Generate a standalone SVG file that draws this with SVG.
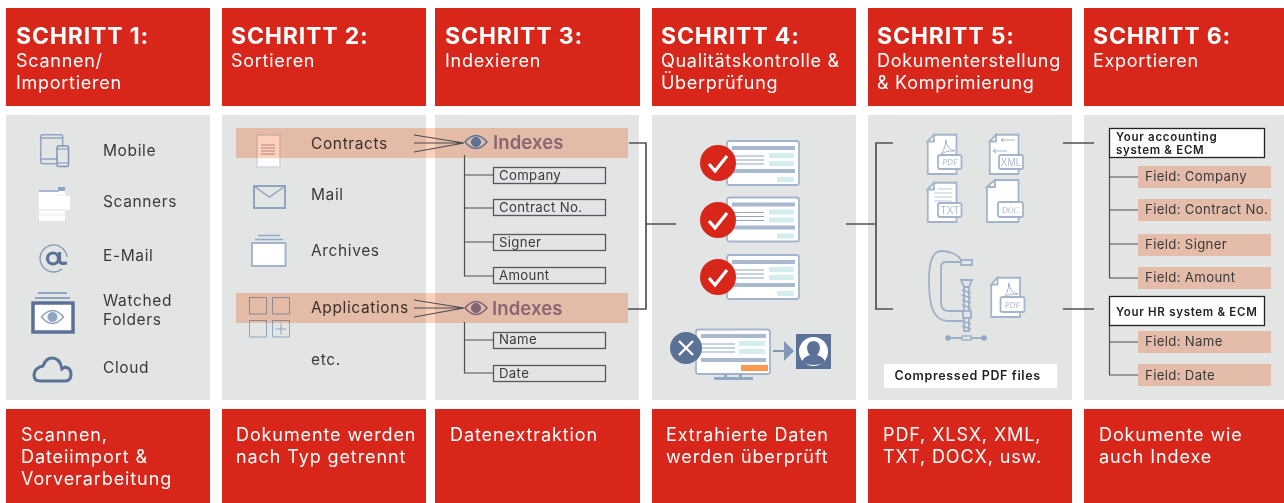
<svg xmlns="http://www.w3.org/2000/svg" xmlns:xlink="http://www.w3.org/1999/xlink" width="1284" height="503" viewBox="0 0 1284 503">
<style>
text{font-family:"Inter","Open Sans","Liberation Sans",sans-serif;fill:#3a3a3a}
.red{fill:#d9261a}
.panel{fill:#e3e5e4}
.h1{font-size:23px;font-weight:700;fill:#fff;letter-spacing:.85px}
.h2{font-size:18px;fill:#fff;letter-spacing:.72px}
.f{font-size:18px;fill:#fff;letter-spacing:.9px}
.l{font-size:15.5px;letter-spacing:.62px}
.b{font-size:13.2px;letter-spacing:.34px}
.idx{font-size:18.5px;font-weight:600;fill:#8a6572;letter-spacing:.1px}
.fld{fill:#e5bcaa}
.band{fill:#ffd0bb;mix-blend-mode:multiply}
.box{fill:none;stroke:#55585c;stroke-width:1.3}
.sysbox{fill:#fff;stroke:#222;stroke-width:1.3}
.sys{font-size:11.5px;font-weight:600;fill:#222;letter-spacing:.7px}
.ln{fill:none;stroke:#4a4d52;stroke-width:1.2}
.br{fill:none;stroke:#4f5257;stroke-width:1.7}
.ic{fill:none;stroke:#8fa5c2;stroke-width:1.5}
.icw{fill:#fff;stroke:#a3b5cd;stroke-width:1.8}
.dk{fill:#5b7296}
.bar{fill:#aab9d0}
.tag{fill:#d4edef}
.cl{fill:none;stroke:#9db0c9;stroke-width:1.8}
.ext{font-size:8px;font-style:italic;fill:#aab9d0;font-family:"Liberation Serif",serif;letter-spacing:0}
.exs{font-size:10px;fill:#aab9d0;font-family:"Liberation Sans",sans-serif;letter-spacing:0}
</style>
<defs>
<g id="file"><path class="icw" d="M7 .75H29.500V40H.75V7.500Z"/><path class="icw" d="M.75 7.500H7V.75Z"/></g>
<g id="card">
<rect class="icw" x="0" y="0" width="72" height="44" rx="2.500"/>
<rect class="bar" x="5" y="5" width="63" height="4"/><rect class="bar" x="5" y="28" width="63" height="4"/>
<path class="ic" stroke-width="1" d="M5 15H37M5 19H37M5 23H37" style="stroke-width:1"/>
<rect class="tag" x="42" y="12" width="25" height="5" rx="1"/><rect class="tag" x="42" y="20" width="25" height="5" rx="1"/><rect class="tag" x="50" y="36" width="17" height="5" rx="1"/>
</g>
<g id="check"><circle class="red" r="18"/><path d="M-9 1-3 8 9-7" fill="none" stroke="#fff" stroke-width="3.200"/></g>
<g id="eye"><path d="M-11 0Q0-13 11 0Q0 13-11 0Z" fill="none" stroke-width="1.600"/><circle r="4.600"/></g>
</defs>

<g id="step1">
<rect class="red" x="6" y="8" width="204" height="98"/><text class="h1" x="16" y="44">SCHRITT 1:</text><text class="h2" x="16" y="67">Scannen/</text><text class="h2" x="16" y="89">Importieren</text>
<rect class="panel" x="6" y="115" width="204" height="285"/>
<rect class="red" x="6" y="409" width="204" height="94"/><text class="f" x="21" y="441">Scannen,</text><text class="f" x="21" y="463">Dateiimport &amp;</text><text class="f" x="21" y="485">Vorverarbeitung</text>
</g>
<g id="step2">
<rect class="red" x="222" y="8" width="204" height="98"/><text class="h1" x="231" y="44">SCHRITT 2:</text><text class="h2" x="231" y="67">Sortieren</text>
<rect class="panel" x="222" y="115" width="204" height="285"/>
<rect class="red" x="222" y="409" width="204" height="94"/><text class="f" x="236" y="441">Dokumente werden</text><text class="f" x="236" y="463">nach Typ getrennt</text>
</g>
<g id="step3">
<rect class="red" x="435" y="8" width="205" height="98"/><text class="h1" x="445" y="44">SCHRITT 3:</text><text class="h2" x="445" y="67">Indexieren</text>
<rect class="panel" x="435" y="115" width="204" height="285"/>
<rect class="red" x="435" y="409" width="205" height="94"/><text class="f" x="450" y="441">Datenextraktion</text>
</g>
<g id="step4">
<rect class="red" x="652" y="8" width="204" height="98"/><text class="h1" x="661" y="44">SCHRITT 4:</text><text class="h2" x="661" y="67">Qualitätskontrolle &amp;</text><text class="h2" x="661" y="89">Überprüfung</text>
<rect class="panel" x="652" y="115" width="204" height="285"/>
<rect class="red" x="652" y="409" width="204" height="94"/><text class="f" x="666" y="441">Extrahierte Daten</text><text class="f" x="666" y="463">werden überprüft</text>
</g>
<g id="step5">
<rect class="red" x="868" y="8" width="204" height="98"/><text class="h1" x="877" y="44">SCHRITT 5:</text><text class="h2" x="877" y="67">Dokumenterstellung</text><text class="h2" x="877" y="89">&amp; Komprimierung</text>
<rect class="panel" x="868" y="115" width="204" height="285"/>
<rect class="red" x="868" y="409" width="204" height="94"/><text class="f" x="883" y="441">PDF, XLSX, XML,</text><text class="f" x="883" y="463">TXT, DOCX, usw.</text>
</g>
<g id="step6">
<rect class="red" x="1084" y="8" width="200" height="98"/><text class="h1" x="1093" y="44">SCHRITT 6:</text><text class="h2" x="1093" y="67">Exportieren</text>
<rect class="panel" x="1084" y="115" width="200" height="285"/>
<rect class="red" x="1084" y="409" width="200" height="94"/><text class="f" x="1099" y="441">Dokumente wie</text><text class="f" x="1099" y="463">auch Indexe</text>
</g>

<g id="sources">
<g id="mobile"><rect class="ic" x="40.700" y="134.700" width="22" height="29" rx="2"/><path class="ic" d="M41 159H57M41 138H63"/><rect x="57" y="146" width="11.500" height="20.500" rx="1.500" fill="#e3e5e4" stroke="#7f96b6" stroke-width="1.500"/><path d="M57 149H68M57 163H68" stroke="#7f96b6"/></g>
<text class="l" x="103" y="156">Mobile</text>
<g id="scanner"><rect x="39" y="190" width="26" height="31" fill="#fff"/><rect x="65" y="196" width="5" height="14" fill="#fff"/><rect x="58" y="187" width="7" height="4" fill="#8fa5c2"/><rect x="39" y="190" width="20" height="2" fill="#aab9d0"/><path d="M39 210H65M39 215H65M56 195H63" stroke="#dfe3ea"/></g>
<text class="l" x="103" y="207">Scanners</text>
<g id="at"><path d="M62 269A13.500 13.500 0 1 1 67 257" fill="none" stroke="#7f96b6" stroke-width="1.300"/><circle cx="53" cy="258.500" r="5.500" fill="none" stroke="#5b7296" stroke-width="3.200"/><path d="M59.500 252V261Q60 264.500 67 263" fill="none" stroke="#5b7296" stroke-width="3.200"/></g>
<text class="l" x="103" y="261">E-Mail</text>
<g id="watched"><path d="M38 293H67M35 298H70" stroke="#8fa5c2" stroke-width="2.200"/><rect x="33" y="303" width="40" height="29" fill="#fff" stroke="#5b7296" stroke-width="3.500"/><g transform="translate(52.500 317)" fill="#8fa5c2" stroke="#8fa5c2"><use xlink:href="#eye"/></g></g>
<text class="l" x="103" y="306">Watched</text><text class="l" x="103" y="325">Folders</text>
<g id="cloud"><path d="M40 381H65Q71 381 71 374Q71 368 65 367Q62 369 62 369Q60 358 52 358Q46 358 43 366Q34 368 34 375Q34 381 40 381Z" fill="none" stroke="#5b7296" stroke-width="3"/></g>
<text class="l" x="103" y="373">Cloud</text>

<g id="contracts"><rect x="257" y="135" width="23" height="32" fill="#fff" stroke="#c6d0de" stroke-width="1.200"/><path d="M261 145H275M261 148H275M261 151H275M261 154H275" stroke="#8a7a86" stroke-width=".7"/></g>
<text class="l" x="311" y="149">Contracts</text>
<g id="mail"><rect class="ic" x="254" y="186" width="31" height="22" style="stroke-width:2"/><path class="ic" d="M254.500 186.500 269.500 197 284.500 186.500"/></g>
<text class="l" x="311" y="200">Mail</text>
<g id="archives"><path d="M258 235.500H280M255 239.500H283" stroke="#93a8c4" stroke-width="1.500"/><rect class="icw" x="252" y="243" width="33.500" height="23" style="stroke-width:2"/></g>
<text class="l" x="311" y="256">Archives</text>
<g id="apps"><path class="ic" style="stroke-width:1" d="M249.500 297.500h17v16.500h-17zM272.500 297.500h17v16.500h-17zM249.500 320.500h17v16.500h-17zM272.500 320.500h17v16.500h-17zM281 323.500V334.500M275.500 329H286.500"/></g>
<text class="l" x="311" y="313">Applications</text>
<text class="l" x="311" y="365">etc.</text>
</g>

<rect class="band" x="236" y="128" width="392" height="30"/>
<rect class="band" x="236" y="293" width="392" height="30"/>

<g id="connectors">
<path class="ln" d="M414 135 464 143M414 143H464M414 152 464 143M414 300 464 308M414 308H464M414 317 464 308"/>
<path class="ln" d="M464.500 155V276H493M464.500 175H493M464.500 208H493M464.500 242H493M464.500 322V373H493M464.500 340H493"/>
<path class="br" d="M629 143H646V309H628M646 224H676M846 224H876M893 143H876V309H893M1063 143H1094M1063 309H1094"/>
<path class="ln" d="M1109.500 157V278H1138M1109.500 177H1138M1109.500 210H1138M1109.500 244H1138M1109.500 325V375H1138M1109.500 342H1138"/>
</g>

<g id="indexes1"><g transform="translate(476 142)" fill="#5b7296" stroke="#5b7296"><use xlink:href="#eye"/></g><text class="idx" x="493" y="149">Indexes</text></g>
<g id="indexes2"><g transform="translate(476 308)" fill="#7f6478" stroke="#7f6478"><use xlink:href="#eye"/></g><text class="idx" x="492" y="315">Indexes</text></g>
<g id="f-company"><rect class="box" x="493.500" y="167.500" width="112" height="16"/><text class="b" x="499" y="180">Company</text></g>
<g id="f-contract"><rect class="box" x="493.500" y="199.500" width="112" height="16"/><text class="b" x="499" y="212">Contract No.</text></g>
<g id="f-signer"><rect class="box" x="493.500" y="234.500" width="112" height="16"/><text class="b" x="499" y="247">Signer</text></g>
<g id="f-amount"><rect class="box" x="493.500" y="267.500" width="112" height="16"/><text class="b" x="499" y="280">Amount</text></g>
<g id="f-name"><rect class="box" x="493.500" y="332.500" width="112" height="16"/><text class="b" x="499" y="344">Name</text></g>
<g id="f-date"><rect class="box" x="493.500" y="365.500" width="112" height="16"/><text class="b" x="499" y="378">Date</text></g>

<g id="checks">
<use xlink:href="#card" x="727" y="141"/><use xlink:href="#check" x="718" y="163"/>
<use xlink:href="#card" x="727" y="197.500"/><use xlink:href="#check" x="718" y="220"/>
<use xlink:href="#card" x="727" y="255"/><use xlink:href="#check" x="718" y="277"/>
</g>
<g id="review">
<rect class="icw" x="696" y="329.500" width="74" height="44.500" rx="2.500"/>
<rect class="bar" x="701" y="334" width="65" height="4"/><rect class="bar" x="701" y="358" width="65" height="4"/>
<path class="ic" style="stroke-width:1" d="M701 344H735M701 348H735M701 352H735"/>
<rect class="tag" x="739" y="341" width="26" height="5" rx="1"/><rect class="tag" x="739" y="349" width="26" height="5" rx="1"/>
<rect x="741" y="365" width="27" height="6" fill="#fb9a4f"/>
<rect x="724" y="374" width="3" height="4" fill="#93a8c4"/><rect x="739" y="374" width="3" height="4" fill="#93a8c4"/><rect x="714" y="377" width="39" height="3" fill="#93a8c4"/>
<circle class="dk" cx="686" cy="348" r="16"/><path d="M679 341 693 355M693 341 679 355" stroke="#fff" stroke-width="2.400"/>
<path d="M773 351H785" stroke="#7f96b6" stroke-width="2"/><path d="M784 341 794 351 784 361Z" fill="#7f96b6"/>
<rect class="dk" x="796" y="334" width="35" height="35"/><circle cx="813.500" cy="351.500" r="14.500" fill="#fff"/><path d="M802 362Q803 357 810 355Q807 352 807 347Q808 341 813.500 341Q819 341 820 347Q820 352 817 355Q824 357 825 362Q820 365 813.500 365Q807 365 802 362Z" class="dk"/>
</g>

<g id="files">
<g id="pdf1"><use xlink:href="#file" x="927" y="134"/><path d="M946 140Q947 150 955 151Q944 150 938 157Q945 152 946 140Z" class="ic" style="stroke-width:.8"/><rect class="icw" x="938" y="155" width="23.500" height="14" rx="2"/><text class="ext" x="950" y="165" text-anchor="middle">PDF</text></g>
<g id="xml"><use xlink:href="#file" x="989" y="134"/><path class="ic" style="stroke-width:.8" d="M1001 140H1015M1001 140l3-2M1001 140l3 2M993 151H1007M993 151l3-2M993 151l3 2"/><rect class="icw" x="999" y="155" width="24" height="14" rx="2"/><text class="exs" x="1011" y="166" text-anchor="middle">XML</text></g>
<g id="txt"><use xlink:href="#file" x="927" y="182"/><path class="ic" style="stroke-width:.6" d="M938 189H952M934 193H952M934 197H952M934 201H952"/><rect class="icw" x="938" y="203" width="23.500" height="14" rx="2"/><text class="exs" x="950" y="214" text-anchor="middle">TXT</text></g>
<g id="doc"><path class="icw" d="M995 180H1018.500V222H987V187Z"/><path class="icw" d="M987 187H995V180Z"/><rect class="icw" x="998" y="202" width="25" height="15" rx="2"/><text class="ext" x="1010.500" y="212.500" text-anchor="middle">DOC</text></g>
<g id="pdf2"><use xlink:href="#file" x="990.500" y="277"/><path d="M1009 283Q1010 293 1018 294Q1007 293 1001 300Q1008 295 1009 283Z" class="ic" style="stroke-width:.8"/><rect class="icw" x="1000.500" y="297" width="24" height="15" rx="2"/><text class="ext" x="1012.500" y="307.500" text-anchor="middle">PDF</text></g>
</g>
<g id="clamp">
<path class="cl" d="M961 260C958 254 948 251 942 251C933 251 929 260 929 281C929 305 933 321 948 321H962"/>
<path class="cl" d="M961 262H946Q941 262 941 267V303Q941 311 949 311H963"/>
<rect class="cl" x="961" y="260" width="11" height="5"/>
<path class="cl" d="M961 280H972L969 287H964Z"/>
<path class="cl" d="M964 287H969V331H964Z"/>
<path class="cl" d="M962 290 971 293M962 295 971 298M962 300 971 303M962 305 971 308M962 321 971 324M962 326 971 329"/>
<rect x="963" y="311" width="8" height="7" fill="#e3e5e4" stroke="#9db0c9" stroke-width="1.800"/>
<path class="cl" d="M948 338H984"/><circle cx="948" cy="338" r="2.800" fill="#93a8c4"/><circle cx="984" cy="338" r="2.800" fill="#93a8c4"/>
<rect x="962" y="336" width="9" height="4" fill="#e3e5e4" stroke="#9db0c9" stroke-width="1.400"/>
</g>
<g id="compressed"><rect x="884" y="364" width="173" height="24" fill="#fff"/><text x="894.500" y="380" style="font-size:12.500px;font-weight:600;fill:#222;letter-spacing:.65px">Compressed PDF files</text></g>

<g id="sys1"><rect class="sysbox" x="1109.500" y="128.500" width="155" height="29"/><text class="sys" x="1116" y="141">Your accounting</text><text class="sys" x="1116" y="154">system &amp; ECM</text></g>
<g id="sys2"><rect class="sysbox" x="1109.500" y="296.500" width="155" height="29"/><text class="sys" x="1116" y="316">Your HR system &amp; ECM</text></g>
<g id="fields">
<g id="o-company"><rect class="fld" x="1138" y="166" width="133" height="22"/><text class="b" x="1145" y="181">Field: Company</text></g>
<g id="o-contract"><rect class="fld" x="1138" y="199" width="133" height="22"/><text class="b" x="1145" y="214">Field: Contract No.</text></g>
<g id="o-signer"><rect class="fld" x="1138" y="234" width="133" height="22"/><text class="b" x="1145" y="249">Field: Signer</text></g>
<g id="o-amount"><rect class="fld" x="1138" y="267" width="133" height="22"/><text class="b" x="1145" y="282">Field: Amount</text></g>
<g id="o-name"><rect class="fld" x="1138" y="331" width="133" height="22"/><text class="b" x="1145" y="346">Field: Name</text></g>
<g id="o-date"><rect class="fld" x="1138" y="364" width="133" height="22"/><text class="b" x="1145" y="380">Field: Date</text></g>
</g>
</svg>
